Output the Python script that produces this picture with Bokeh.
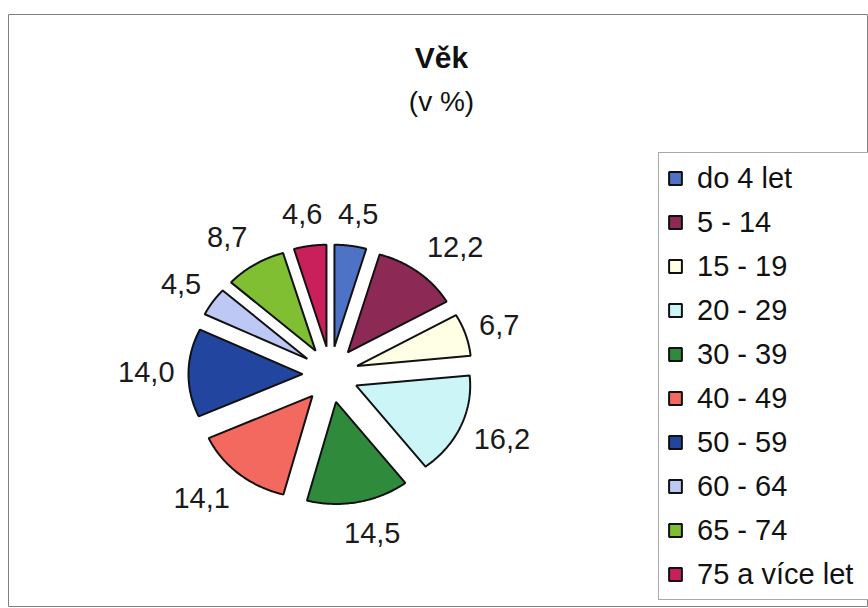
import numpy as np
from bokeh.plotting import figure
from bokeh.models import Range1d, ColumnDataSource, Legend, LegendItem, Label
from bokeh.core.properties import value
from bokeh.embed import file_html
from bokeh.resources import INLINE

# ---- data ----
categories = ["do 4 let", "5 - 14", "15 - 19", "20 - 29", "30 - 39",
              "40 - 49", "50 - 59", "60 - 64", "65 - 74", "75 a více let"]
values = [4.5, 12.2, 6.7, 16.2, 14.5, 14.1, 14.0, 4.5, 8.7, 4.6]
colors = ["#4E72C6", "#8C2A55", "#FFFFE6", "#CCF5F8", "#2F8A3B",
          "#F3685F", "#2246A0", "#BDC9F4", "#80BE32", "#C91F5B"]
title_text = "Věk"
subtitle_text = "(v %)"

# ---- layout constants (pixels; 1 data unit = 1 px) ----
RX, RY = 114, 102          # pie radii (elliptical, as in the scan)
EXPLODE = 28               # explosion offset
AX, AY = 156, 149          # label anchor ellipse
LABEL_PX = 29
FONT = "Liberation Sans"

vals = np.array(values, dtype=float)
frac = vals / vals.sum()
ends = np.cumsum(frac)
starts = ends - frac
# clockwise from 12 o'clock
a0 = np.pi / 2 - 2 * np.pi * starts
a1 = np.pi / 2 - 2 * np.pi * ends
mid = (a0 + a1) / 2

xs, ys = [], []
for s, e, m in zip(a0, a1, mid):
    t = np.linspace(s, e, 60)
    ox, oy = EXPLODE * np.cos(m), EXPLODE * np.sin(m)
    px = np.concatenate([[ox], ox + RX * np.cos(t), [ox]])
    py = np.concatenate([[oy], oy + RY * np.sin(t), [oy]])
    xs.append(px.tolist())
    ys.append(py.tolist())

src = ColumnDataSource(dict(xs=xs, ys=ys, color=colors, cat=categories))

texts = [f"{v:.1f}".replace(".", ",") for v in values]
# approximate label box sizes (Arial metrics) so labels sit outside the pie
widths = np.array([sum(0.278 if ch == "," else 0.556 for ch in t) for t in texts]) * LABEL_PX
height = 0.9 * LABEL_PX
lx = AX * np.cos(mid) + widths / 2 * np.clip(2 * np.cos(mid), -1, 1)
ly = AY * np.sin(mid) + height / 2 * np.sin(mid)
lab_src = ColumnDataSource(dict(x=lx.tolist(), y=ly.tolist(), text=texts))

p = figure(width=868, height=608,
           x_range=Range1d(-322, 538), y_range=Range1d(-232, 360),
           output_backend="svg", toolbar_location=None,
           x_axis_location=None, y_axis_location=None,
           min_border_left=8, min_border_right=0,
           min_border_top=14, min_border_bottom=2)
p.grid.visible = False
p.outline_line_color = "#808080"
p.outline_line_width = 1
p.background_fill_color = "white"
p.border_fill_color = "white"

r = p.patches("xs", "ys", source=src, fill_color="color",
              line_color="#111111", line_width=2)

p.text("x", "y", text="text", source=lab_src,
       text_align="center", text_baseline="middle",
       text_font=value(FONT), text_font_size=f"{LABEL_PX}px", text_color="#1a1a1a")

p.add_layout(Label(x=111, y=317, text=title_text, text_align="center",
                   text_baseline="middle", text_font=FONT,
                   text_font_size="30px", text_font_style="bold",
                   text_color="#111111"))
p.add_layout(Label(x=111, y=273, text=subtitle_text, text_align="center",
                   text_baseline="middle", text_font=FONT,
                   text_font_size="28px", text_color="#111111"))

items = [LegendItem(label=c, renderers=[r], index=i) for i, c in enumerate(categories)]
legend = Legend(items=items, location=(650, 6), orientation="vertical",
                label_text_font=FONT, label_text_font_size="29px",
                label_text_color="#111111",
                glyph_width=16, glyph_height=16, label_standoff=14,
                padding=8, spacing=10, label_height=34, label_width=185,
                margin=0,
                border_line_color="#555555", border_line_width=1,
                background_fill_color="white", background_fill_alpha=1)
p.add_layout(legend, "center")

open("out.html", "w").write(file_html(p, INLINE))
